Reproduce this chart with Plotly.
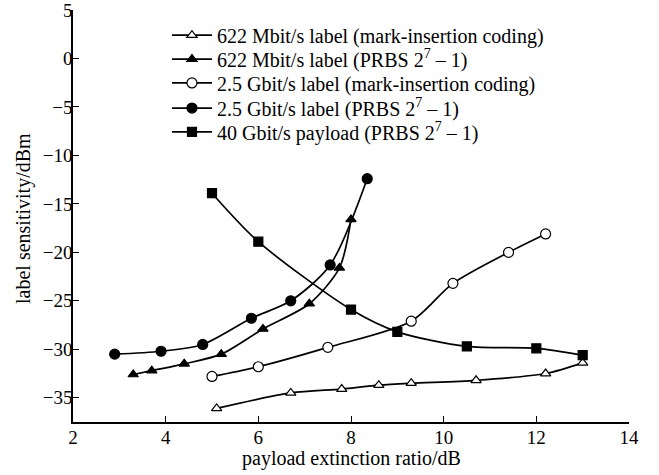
import plotly.graph_objects as go

# 622 Mbit/s label (mark-insertion coding) - open triangles
x_622_mi = [5.1, 6.7, 7.8, 8.6, 9.3, 10.7, 12.2, 13.0]
y_622_mi = [-36.1, -34.5, -34.1, -33.7, -33.5, -33.2, -32.5, -31.4]

# 622 Mbit/s label (PRBS 2^7-1) - filled triangles
x_622_prbs = [3.3, 3.7, 4.4, 5.2, 6.1, 7.1, 7.75, 8.0]
y_622_prbs = [-32.6, -32.2, -31.5, -30.5, -27.9, -25.3, -21.6, -16.6]

# 2.5 Gbit/s label (mark-insertion coding) - open circles
x_25_mi = [5.0, 6.0, 7.5, 9.3, 10.2, 11.4, 12.2]
y_25_mi = [-32.8, -31.8, -29.8, -27.1, -23.2, -20.0, -18.1]

# 2.5 Gbit/s label (PRBS 2^7-1) - filled circles
x_25_prbs = [2.9, 3.9, 4.8, 5.85, 6.7, 7.55, 8.35]
y_25_prbs = [-30.5, -30.2, -29.5, -26.8, -25.0, -21.3, -12.4]

# 40 Gbit/s payload (PRBS 2^7-1) - filled squares
x_40 = [5.0, 6.0, 8.0, 9.0, 10.5, 12.0, 13.0]
y_40 = [-13.9, -18.9, -25.9, -28.2, -29.7, -29.9, -30.6]

names = [
    "622 Mbit/s label (mark-insertion coding)",
    "622 Mbit/s label (PRBS 2<sup>7</sup> – 1)",
    "2.5 Gbit/s label (mark-insertion coding)",
    "2.5 Gbit/s label (PRBS 2<sup>7</sup> – 1)",
    "40 Gbit/s payload (PRBS 2<sup>7</sup> – 1)",
]

x_tickvals = [2, 4, 6, 8, 10, 12, 14]
y_tickvals = [5, 0, -5, -10, -15, -20, -25, -30, -35]
y_ticktext = ["5", "0", "−5", "−10", "−15", "−20", "−25", "−30", "−35"]
x_title = "payload extinction ratio/dB"
y_title = "label sensitivity/dBm"

series = [
    (x_622_mi, y_622_mi, "triangle-up", "white", 9),
    (x_622_prbs, y_622_prbs, "triangle-up", "black", 9),
    (x_25_mi, y_25_mi, "circle", "white", 10),
    (x_25_prbs, y_25_prbs, "circle", "black", 10),
    (x_40, y_40, "square", "black", 9),
]

legend_ids = ["legend", "legend2", "legend3", "legend4", "legend5"]
legend_rows = [0.939, 0.881, 0.823, 0.762, 0.704]

fig = go.Figure()
for (xs, ys, sym, fill, sz), nm, lid in zip(series, names, legend_ids):
    fig.add_trace(go.Scatter(
        x=xs, y=ys, name=nm, mode="lines+markers", legend=lid,
        line=dict(color="black", width=1.7, shape="spline", smoothing=0.8),
        marker=dict(symbol=sym, color=fill, size=sz,
                    line=dict(color="black", width=1.2)),
    ))

font_family = "Liberation Serif, Times New Roman, serif"
legend_cfg = {}
for lid, ly in zip(legend_ids, legend_rows):
    legend_cfg[lid] = dict(x=0.169, y=ly, xanchor="left", yanchor="middle",
                           bgcolor="rgba(0,0,0,0)", font=dict(size=20),
                           itemwidth=40)

fig.update_layout(
    width=659, height=475,
    margin=dict(l=73, r=30, t=10, b=53),
    paper_bgcolor="white", plot_bgcolor="white",
    font=dict(family=font_family, size=19, color="black"),
    showlegend=True,
    xaxis=dict(range=[2, 14], tickvals=x_tickvals,
               showgrid=False, zeroline=False, showline=True,
               linecolor="black", linewidth=1.5, ticks="inside",
               ticklen=6, tickcolor="black", mirror=False, automargin=False,
               ticklabelstandoff=-3, ticklabeloverflow="allow",
               tickfont=dict(size=19)),
    yaxis=dict(range=[-37.5, 5], tickvals=y_tickvals, ticktext=y_ticktext,
               showgrid=False, zeroline=False, showline=True,
               linecolor="black", linewidth=1.5, ticks="inside",
               ticklen=6, tickcolor="black", mirror=False, automargin=False,
               ticklabelstandoff=-5, ticklabeloverflow="allow",
               tickfont=dict(size=19)),
    annotations=[
        dict(text=x_title, xref="paper", yref="paper", x=0.501, y=-0.088,
             xanchor="center", yanchor="middle", showarrow=False,
             font=dict(size=20)),
        dict(text=y_title, xref="paper", yref="paper", x=-0.088, y=0.493,
             xanchor="center", yanchor="middle", showarrow=False,
             textangle=-90, font=dict(size=20)),
    ],
    **legend_cfg,
)

fig.write_html("out.html", config={"displayModeBar": False},
               post_script="document.body.style.margin='0';document.body.style.overflow='hidden';")
